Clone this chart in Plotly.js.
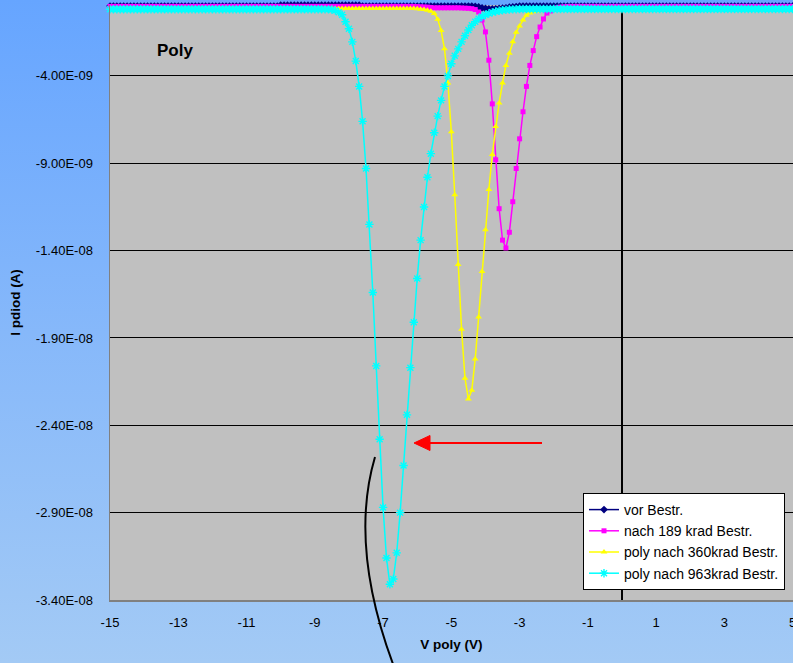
<!DOCTYPE html>
<html>
<head>
<meta charset="utf-8">
<script src="https://cdn.plot.ly/plotly-3.0.1.min.js"></script>
<style>
html,body{margin:0;padding:0;}
body{width:793px;height:663px;overflow:hidden;background:linear-gradient(180deg,#66a5ff 0%,#86b8fa 50%,#a3caf5 100%);}
#chart{width:793px;height:663px;}
</style>
</head>
<body>
<div id="chart"></div>
<script>
// Voltage V poly (V)
const vPoly = [
-15,-14.9,-14.8,-14.7,-14.6,-14.5,-14.4,-14.3,-14.2,-14.1,
-14,-13.9,-13.8,-13.7,-13.6,-13.5,-13.4,-13.3,-13.2,-13.1,
-13,-12.9,-12.8,-12.7,-12.6,-12.5,-12.4,-12.3,-12.2,-12.1,
-12,-11.9,-11.8,-11.7,-11.6,-11.5,-11.4,-11.3,-11.2,-11.1,
-11,-10.9,-10.8,-10.7,-10.6,-10.5,-10.4,-10.3,-10.2,-10.1,
-10,-9.9,-9.8,-9.7,-9.6,-9.5,-9.4,-9.3,-9.2,-9.1,
-9,-8.9,-8.8,-8.7,-8.6,-8.5,-8.4,-8.3,-8.2,-8.1,
-8,-7.9,-7.8,-7.7,-7.6,-7.5,-7.4,-7.3,-7.2,-7.1,
-7,-6.9,-6.8,-6.7,-6.6,-6.5,-6.4,-6.3,-6.2,-6.1,
-6,-5.9,-5.8,-5.7,-5.6,-5.5,-5.4,-5.3,-5.2,-5.1,
-5,-4.9,-4.8,-4.7,-4.6,-4.5,-4.4,-4.3,-4.2,-4.1,
-4,-3.9,-3.8,-3.7,-3.6,-3.5,-3.4,-3.3,-3.2,-3.1,
-3,-2.9,-2.8,-2.7,-2.6,-2.5,-2.4,-2.3,-2.2,-2.1,
-2,-1.9,-1.8,-1.7,-1.6,-1.5,-1.4,-1.3,-1.2,-1.1,
-1,-0.9,-0.8,-0.7,-0.6,-0.5,-0.4,-0.3,-0.2,-0.1,
0,0.1,0.2,0.3,0.4,0.5,0.6,0.7,0.8,0.9,
1,1.1,1.2,1.3,1.4,1.5,1.6,1.7,1.8,1.9,
2,2.1,2.2,2.3,2.4,2.5,2.6,2.7,2.8,2.9,
3,3.1,3.2,3.3,3.4,3.5,3.6,3.7,3.8,3.9,
4,4.1,4.2,4.3,4.4,4.5,4.6,4.7,4.8,4.9,
5];

// Currents in nA (multiplied by 1e-9 to get A)
const iVor = [
0,0,0,0,0,0,0,0,0,0,
0,0,0,0,0,0,0,0,0,0,
0,0,0,0,0,0,0,0,0,0,
0,0,0,0,0,0,0,0,0,0,
0,0,0,0,0,0,0,0,0,0,
0.05,0.05,0.05,0.05,0.05,0.05,0.05,0.05,0.05,0.05,
0.05,0.05,0.05,0.05,0.05,0.05,0.05,0.05,0.05,0.05,
0.05,0.05,0.05,0.05,0,0,0,0,0,0,
0,0,0,0,0,0,0,0,0,0,
0,0,0,0,0,0,0,0,0,0,
0,0,0,0,0,0,0,-0.02,-0.05,-0.1,
-0.14,-0.16,-0.17,-0.16,-0.14,-0.12,-0.1,-0.07,-0.05,-0.03,
0,0,0,0,0,0,0,0,0,0,
0,0,0,0,0,0,0,0,0,0,
0,0,0,0,0,0,0,0,0,0,
0,0,0,0,0,0,0,0,0,0,
0,0,0,0,0,0,0,0,0,0,
0,0,0,0,0,0,0,0,0,0,
0,0,0,0,0,0,0,0,0,0,
0,0,0,0,0,0,0,0,0,0,
0];

const i189 = [
-0.02,-0.02,-0.02,-0.02,-0.02,-0.02,-0.02,-0.02,-0.02,-0.02,
-0.02,-0.02,-0.02,-0.02,-0.02,-0.02,-0.02,-0.02,-0.02,-0.02,
-0.02,-0.02,-0.02,-0.02,-0.02,-0.02,-0.02,-0.02,-0.02,-0.02,
-0.02,-0.02,-0.02,-0.02,-0.02,-0.02,-0.02,-0.02,-0.02,-0.02,
-0.02,-0.02,-0.02,-0.02,-0.02,-0.02,-0.02,-0.02,-0.02,-0.02,
-0.02,-0.02,-0.02,-0.02,-0.02,-0.02,-0.02,-0.02,-0.02,-0.02,
-0.02,-0.02,-0.02,-0.02,-0.02,-0.02,-0.02,-0.02,-0.02,-0.02,
-0.02,-0.02,-0.02,-0.02,-0.02,-0.02,-0.02,-0.02,-0.02,-0.02,
-0.02,-0.02,-0.02,-0.02,-0.02,-0.02,-0.02,-0.02,-0.02,-0.02,
-0.03,-0.04,-0.05,-0.06,-0.08,-0.1,-0.1,-0.1,-0.1,-0.1,
-0.1,-0.1,-0.1,-0.11,-0.12,-0.13,-0.15,-0.2,-0.34,-0.8,
-1.48,-3.1,-5.6,-8.8,-11.6,-13.4,-13.85,-12.95,-11.2,-9.3,
-7.6,-6.05,-4.6,-3.4,-2.55,-1.75,-1.2,-0.74,-0.4,-0.28,
-0.18,-0.1,-0.06,-0.04,-0.03,-0.02,-0.02,-0.02,-0.02,-0.02,
-0.02,-0.02,-0.02,-0.02,-0.02,-0.02,-0.02,-0.02,-0.02,-0.02,
-0.02,-0.02,-0.02,-0.02,-0.02,-0.02,-0.02,-0.02,-0.02,-0.02,
-0.02,-0.02,-0.02,-0.02,-0.02,-0.02,-0.02,-0.02,-0.02,-0.02,
-0.02,-0.02,-0.02,-0.02,-0.02,-0.02,-0.02,-0.02,-0.02,-0.02,
-0.02,-0.02,-0.02,-0.02,-0.02,-0.02,-0.02,-0.02,-0.02,-0.02,
-0.02,-0.02,-0.02,-0.02,-0.02,-0.02,-0.02,-0.02,-0.02,-0.02,
-0.02];

const i360 = [
-0.14,-0.14,-0.14,-0.14,-0.14,-0.14,-0.14,-0.14,-0.14,-0.14,
-0.14,-0.14,-0.14,-0.14,-0.14,-0.14,-0.14,-0.14,-0.14,-0.14,
-0.14,-0.14,-0.14,-0.14,-0.14,-0.14,-0.14,-0.14,-0.14,-0.14,
-0.14,-0.14,-0.14,-0.14,-0.14,-0.14,-0.14,-0.14,-0.14,-0.14,
-0.14,-0.14,-0.14,-0.14,-0.14,-0.14,-0.14,-0.14,-0.14,-0.14,
-0.14,-0.14,-0.14,-0.14,-0.14,-0.14,-0.14,-0.14,-0.14,-0.14,
-0.14,-0.14,-0.14,-0.14,-0.14,-0.14,-0.14,-0.14,-0.14,-0.14,
-0.14,-0.14,-0.14,-0.14,-0.14,-0.14,-0.14,-0.14,-0.14,-0.14,
-0.14,-0.14,-0.14,-0.14,-0.14,-0.14,-0.14,-0.14,-0.14,-0.14,
-0.15,-0.18,-0.2,-0.24,-0.3,-0.42,-0.75,-1.4,-2.45,-4.4,
-7.2,-10.8,-14.8,-18.5,-21.3,-22.5,-22.0,-20.2,-17.8,-15.2,
-12.8,-10.5,-8.5,-6.9,-5.55,-4.4,-3.4,-2.7,-2.05,-1.5,
-1.14,-0.8,-0.52,-0.4,-0.33,-0.28,-0.24,-0.2,-0.18,-0.17,
-0.16,-0.16,-0.16,-0.16,-0.16,-0.16,-0.16,-0.16,-0.16,-0.16,
-0.16,-0.16,-0.16,-0.16,-0.16,-0.16,-0.16,-0.16,-0.16,-0.16,
-0.16,-0.16,-0.16,-0.16,-0.16,-0.16,-0.16,-0.16,-0.16,-0.16,
-0.16,-0.16,-0.16,-0.16,-0.16,-0.16,-0.16,-0.16,-0.16,-0.16,
-0.16,-0.16,-0.16,-0.16,-0.16,-0.16,-0.16,-0.16,-0.16,-0.16,
-0.16,-0.16,-0.16,-0.16,-0.16,-0.16,-0.16,-0.16,-0.16,-0.16,
-0.16,-0.16,-0.16,-0.16,-0.16,-0.16,-0.16,-0.16,-0.16,-0.16,
-0.16];

const i963 = [
-0.18,-0.18,-0.18,-0.18,-0.18,-0.18,-0.18,-0.18,-0.18,-0.18,
-0.18,-0.18,-0.18,-0.18,-0.18,-0.18,-0.18,-0.18,-0.18,-0.18,
-0.18,-0.18,-0.18,-0.18,-0.18,-0.18,-0.18,-0.18,-0.18,-0.18,
-0.18,-0.18,-0.18,-0.18,-0.18,-0.18,-0.18,-0.18,-0.18,-0.18,
-0.18,-0.18,-0.18,-0.18,-0.18,-0.18,-0.18,-0.18,-0.18,-0.18,
-0.18,-0.18,-0.18,-0.18,-0.18,-0.18,-0.18,-0.18,-0.18,-0.18,
-0.18,-0.18,-0.18,-0.19,-0.19,-0.2,-0.25,-0.35,-0.5,-0.9,
-1.3,-2.05,-3.15,-4.6,-6.6,-9.3,-12.5,-16.4,-20.6,-24.8,
-28.7,-31.6,-33.1,-32.8,-31.3,-29.0,-26.3,-23.4,-20.7,-18.1,
-15.6,-13.4,-11.5,-9.8,-8.45,-7.25,-6.3,-5.4,-4.6,-4.0,
-3.3,-2.85,-2.45,-2.05,-1.7,-1.37,-1.1,-0.9,-0.72,-0.6,
-0.5,-0.42,-0.36,-0.31,-0.27,-0.24,-0.22,-0.2,-0.19,-0.18,
-0.17,-0.17,-0.17,-0.17,-0.17,-0.17,-0.17,-0.17,-0.17,-0.17,
-0.17,-0.17,-0.17,-0.17,-0.17,-0.17,-0.17,-0.17,-0.17,-0.17,
-0.17,-0.17,-0.17,-0.17,-0.17,-0.17,-0.17,-0.17,-0.17,-0.17,
-0.17,-0.17,-0.17,-0.17,-0.17,-0.17,-0.17,-0.17,-0.17,-0.17,
-0.17,-0.17,-0.17,-0.17,-0.17,-0.17,-0.17,-0.17,-0.17,-0.17,
-0.17,-0.17,-0.17,-0.17,-0.17,-0.17,-0.17,-0.17,-0.17,-0.17,
-0.17,-0.17,-0.17,-0.17,-0.17,-0.17,-0.17,-0.17,-0.17,-0.17,
-0.17,-0.17,-0.17,-0.17,-0.17,-0.17,-0.17,-0.17,-0.17,-0.17,
-0.17];

const seriesNames = ['vor Bestr.','nach 189 krad Bestr.','poly nach 360krad Bestr.','poly nach 963krad Bestr.'];
const xTickVals = [-15,-13,-11,-9,-7,-5,-3,-1,1,3,5];
const xTickText = ['-15','-13','-11','-9','-7','-5','-3','-1','1','3','5'];
const yTickVals = [-4e-9,-9e-9,-1.4e-8,-1.9e-8,-2.4e-8,-2.9e-8,-3.4e-8];
const yTickText = ['-4.00E-09','-9.00E-09','-1.40E-08','-1.90E-08','-2.40E-08','-2.90E-08','-3.40E-08'];

const toA = arr => arr.map(v => v * 1e-9);

const styles = [
  {color:'#000080', symbol:'diamond', size:6},
  {color:'#FF00FF', symbol:'square', size:5},
  {color:'#FFFF00', symbol:'triangle-up', size:6},
  {color:'#00FFFF', symbol:'asterisk-open', size:7}
];
const ys = [iVor, i189, i360, i963];

const traces = ys.map((y, k) => ({
  type:'scatter', mode:'lines+markers',
  x: vPoly, y: toA(y), name: seriesNames[k],
  legendgroup: 'g'+k,
  cliponaxis: false,
  line:{color: styles[k].color, width:1.5},
  marker:{color: styles[k].color, symbol: styles[k].symbol, size: styles[k].size,
          line:{color: styles[k].color, width: k===3 ? 1.4 : 0}}
}));

// pixel -> paper helpers for decorative drawings
const L = 110, R = 793, T = 5, B = 600;
const px = x => (x - L) / (R - L);
const py = y => (B - y) / (B - T);

const layout = {
  width:793, height:663,
  margin:{l:110, r:0, t:5, b:63, pad:0},
  paper_bgcolor:'rgba(0,0,0,0)',
  plot_bgcolor:'#C0C0C0',
  font:{family:'"Liberation Sans", Arial, sans-serif', size:13, color:'#000'},
  showlegend:true,
  xaxis:{
    range:[-15, 5.01], tickvals:xTickVals, ticktext:xTickText,
    showgrid:false, zeroline:true, zerolinecolor:'#000', zerolinewidth:1.5,
    showline:true, linecolor:'#808080', linewidth:1.5, mirror:false,
    ticks:'', ticklabelstandoff:10, tickfont:{size:13}, ticklabeloverflow:'allow',
    title:{text:'<b>V poly (V)</b>', font:{size:13.5}, standoff:10}
  },
  yaxis:{
    range:[-3.4e-8, 0.06e-9], tickvals:yTickVals, ticktext:yTickText,
    showgrid:true, gridcolor:'#000', gridwidth:1,
    zeroline:false, showline:true, linecolor:'#808080', linewidth:1.5,
    ticks:'', ticklabelstandoff:13, tickfont:{size:13},
    title:{text:'<b>I pdiod (A)</b>', font:{size:13.5}, standoff:12}
  },
  legend:{
    x: px(583), y: py(493), xanchor:'left', yanchor:'top',
    bgcolor:'#FFFFFF', bordercolor:'#000', borderwidth:1,
    font:{size:14}, traceorder:'grouped', tracegroupgap:0
  },
  annotations:[
    {xref:'paper', yref:'paper', x:px(175), y:py(51), text:'<b>Poly</b>', showarrow:false,
     font:{size:17}, xanchor:'center', yanchor:'middle'},
    {xref:'paper', yref:'paper', x:px(512), y:py(659), text:'0.000E+11', showarrow:false,
     font:{size:13}, xanchor:'left', yanchor:'top'}
  ],
  shapes:[
    {type:'line', xref:'paper', yref:'paper', x0:px(542), y0:py(443), x1:px(428), y1:py(443),
     line:{color:'#FF0000', width:2}, layer:'above'},
    {type:'path', xref:'paper', yref:'paper', layer:'above',
     path:`M ${px(414)} ${py(443)} L ${px(430)} ${py(435.5)} L ${px(430)} ${py(450.5)} Z`,
     fillcolor:'#FF0000', line:{color:'#FF0000', width:1}},
    {type:'path', xref:'paper', yref:'paper', layer:'above',
     path:`M ${px(375)} ${py(457)} Q ${px(349)} ${py(545)} ${px(393)} ${py(664)}`,
     line:{color:'#000', width:2}}
  ]
};

Plotly.newPlot('chart', traces, layout, {displayModeBar:false, staticPlot:true});
</script>
</body>
</html>
